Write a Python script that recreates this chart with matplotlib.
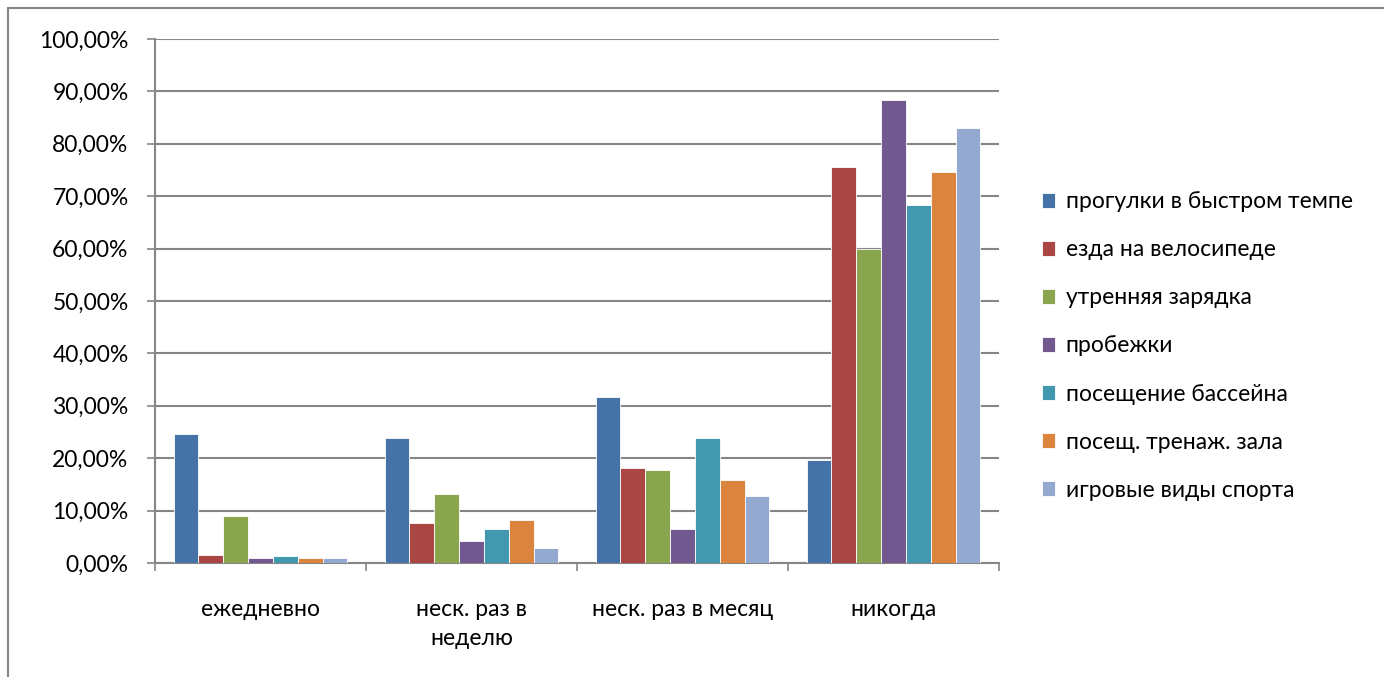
import matplotlib
matplotlib.use("Agg")
import matplotlib.pyplot as plt
import numpy as np
from matplotlib.patches import Rectangle

categories = ["ежедневно", "неск. раз в\nнеделю", "неск. раз в месяц", "никогда"]
series_names = ["прогулки в быстром темпе", "езда на велосипеде", "утренняя зарядка",
                "пробежки", "посещение бассейна", "посещ. тренаж. зала", "игровые виды спорта"]
walking = [24.7, 23.8, 31.6, 19.6]
cycling = [1.55, 7.7, 18.05, 75.5]
exercise = [8.9, 13.1, 17.7, 60.0]
running = [0.97, 4.15, 6.4, 88.35]
pool = [1.3, 6.4, 23.8, 68.3]
gym = [0.9, 8.3, 15.75, 74.6]
games = [0.9, 2.8, 12.8, 83.1]
series = [walking, cycling, exercise, running, pool, gym, games]
colors = ["#4572A7", "#AA4643", "#89A54E", "#71588F", "#4198AF", "#DB843D", "#93A9CF"]
yticks = [0, 10, 20, 30, 40, 50, 60, 70, 80, 90, 100]

plt.rcParams['font.family'] = ['Lato', 'DejaVu Sans']
W, H = 1384, 677
fig = plt.figure(figsize=(W/100, H/100), dpi=100)
ax = fig.add_axes([155/W, 1-563/H, (999-155)/W, (563-39)/H])

n = len(series)
bw = 1.0/(n+1.5)
x = np.arange(len(categories))
for i, (vals, c, name) in enumerate(zip(series, colors, series_names)):
    ax.bar(x - n*bw/2 + (i+0.5)*bw, vals, width=bw, color=c, label=name,
           edgecolor='white', linewidth=0.6, zorder=3)

ax.set_xlim(-0.5, len(categories)-0.5)
ax.set_ylim(0, 100)
ax.set_yticks(yticks)
ax.set_yticklabels([f"{v:.2f}%".replace('.', ',') for v in yticks], fontsize=16.5)
ax.yaxis.grid(True, color='#868686', linewidth=1.5, zorder=0)
ax.set_xticks(x)
ax.set_xticklabels(categories, fontsize=16.5, linespacing=1.45)
ax.set_xticks(np.arange(len(categories)+1)-0.5, minor=True)
ax.tick_params(axis='x', which='major', length=0, pad=26)
ax.tick_params(axis='x', which='minor', length=6, width=1.2, color='#868686', direction='out')
ax.tick_params(axis='y', length=6, width=1.2, color='#868686', direction='out', pad=13)
for s in ['top', 'right']:
    ax.spines[s].set_visible(False)
for s in ['left', 'bottom']:
    ax.spines[s].set_color('#868686')
    ax.spines[s].set_linewidth(1.5)

leg = fig.legend(loc='center left', bbox_to_anchor=(1021/W, 1-346/H), frameon=False,
                 fontsize=16.5, handlelength=0.6, handleheight=0.6, handletextpad=0.45,
                 labelspacing=1.18)

fig.patches.append(Rectangle((8/W, -0.1), 1.1, 1.1-8/H, transform=fig.transFigure,
                             fill=False, edgecolor='#868686', linewidth=1.5))
fig.savefig("out.png", dpi=100)
